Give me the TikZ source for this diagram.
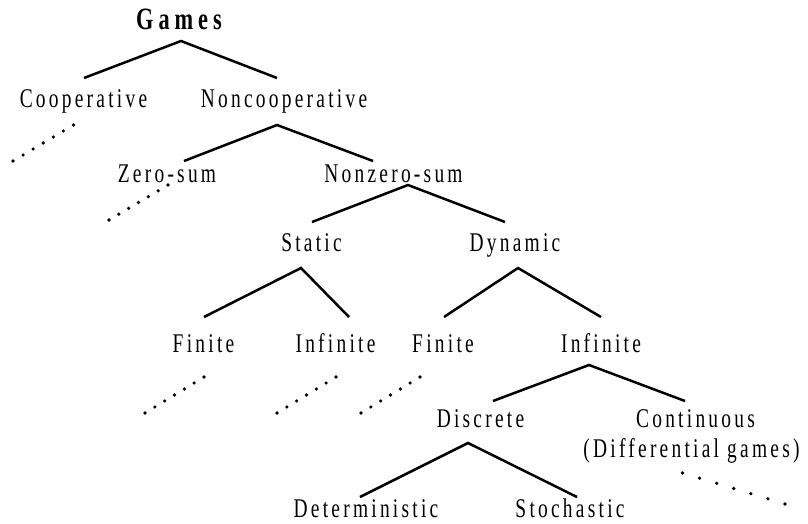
\documentclass[tikz,border=0pt]{standalone}
\usepackage{fontspec}
\setmainfont{Liberation Serif}[FakeStretch=0.72, LetterSpace=12]
\newfontfamily\titlefont{Liberation Serif}[FakeStretch=0.72, LetterSpace=16]
\usetikzlibrary{calc}
\begin{document}
\begin{tikzpicture}[x=1pt,y=-1pt,
  lbl/.style={anchor=base,inner sep=0pt,font=\fontsize{27}{30}\selectfont},
  ttl/.style={anchor=base,inner sep=0pt,font=\titlefont\bfseries\fontsize{31}{34}\selectfont},
  edge/.style={line width=2.5pt},
  dotfill/.style={fill=black}]
\useasboundingbox (0,0) rectangle (808,523);
% nodes
\node[ttl] (games) at (179,29) {Games};
\node[lbl] (coop) at (83.5,107) {Cooperative};
\node[lbl] (noncoop) at (284,107) {Noncooperative};
\node[lbl] (zero) at (167,182) {Zero-sum};
\node[lbl] (nonzero) at (393.5,182) {Nonzero-sum};
\node[lbl] (static) at (311.5,251) {Static};
\node[lbl] (dynamic) at (515,251) {Dynamic};
\node[lbl] (fin1) at (203.5,352) {Finite};
\node[lbl] (inf1) at (335.5,352) {Infinite};
\node[lbl] (fin2) at (443,352) {Finite};
\node[lbl] (inf2) at (601,352) {Infinite};
\node[lbl] (disc) at (480.5,427) {Discrete};
\node[lbl] (cont) at (695.5,427) {Continuous};
\node[lbl] (diff) at (691.5,457) {(Differential games)};
\node[lbl] (det) at (366,517) {Deterministic};
\node[lbl] (stoch) at (570,517) {Stochastic};
% ends of dotted lines
\coordinate (s1) at ([shift={(-10,18)}]coop.base);
\coordinate (s2) at ([shift={(1,3)}]zero.base);
\coordinate (s3) at ([shift={(0.5,25)}]fin1.base);
\coordinate (s4) at ([shift={(0.5,25)}]inf1.base);
\coordinate (s5) at ([shift={(-23,25)}]fin2.base);
\coordinate (s6) at ([shift={(-9,16)}]diff.base);
\coordinate (e1) at (13,161);
\coordinate (e2) at (109,220);
\coordinate (e3) at (145,413);
\coordinate (e4) at (277,413);
\coordinate (e5) at (361,413);
\coordinate (e6) at (785,504);
% edges
\draw[edge] ([shift={(0.5,-29)}]coop.base) -- ([shift={(2,12)}]games.base) -- ([shift={(-7,-29)}]noncoop.base);
\draw[edge] ([shift={(17,-21)}]zero.base) -- ([shift={(-7,18)}]noncoop.base) -- ([shift={(-20.5,-21)}]nonzero.base);
\draw[edge] ([shift={(0.5,-29)}]static.base) -- ([shift={(14.5,3)}]nonzero.base) -- ([shift={(-10,-29)}]dynamic.base);
\draw[edge] ([shift={(0.5,-35)}]fin1.base) -- ([shift={(-10.5,17)}]static.base) -- ([shift={(13.5,-35)}]inf1.base);
\draw[edge] ([shift={(1,-35)}]fin2.base) -- ([shift={(3,17)}]dynamic.base) -- ([shift={(0,-35)}]inf2.base);
\draw[edge] ([shift={(12.5,-26)}]disc.base) -- ([shift={(-12,13)}]inf2.base) -- ([shift={(-10.5,-26)}]cont.base);
\draw[edge] ([shift={(-6,-20)}]det.base) -- ([shift={(-12.5,16)}]disc.base) -- ([shift={(7,-20)}]stoch.base);
% dotted lines
\foreach \i in {1,...,6}{
  \foreach \t in {0,...,6}{
    \fill[dotfill] ($(s\i)!\t/6!(e\i)$) circle (1.8);
  }
}
\end{tikzpicture}
\end{document}
